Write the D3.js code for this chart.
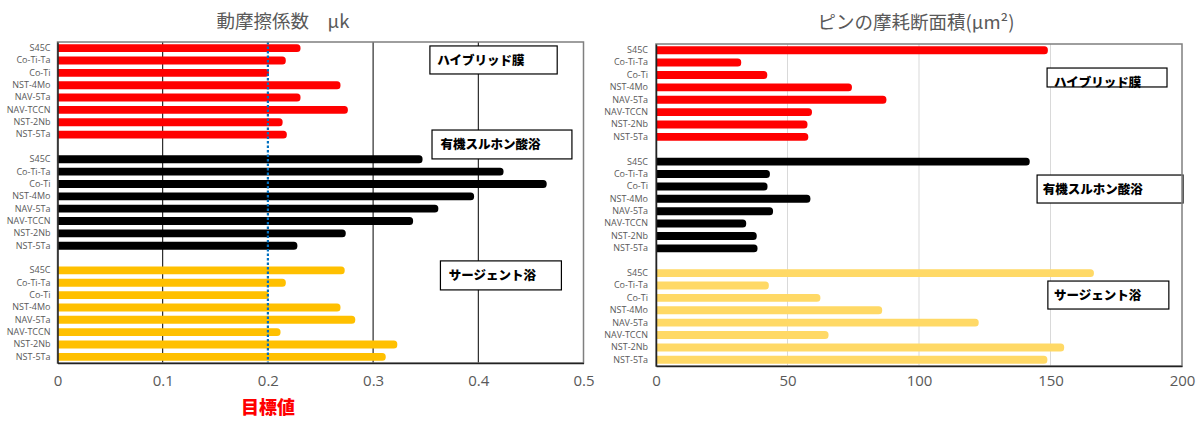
<!DOCTYPE html>
<html>
<head>
<meta charset="utf-8">
<script src="https://cdn.jsdelivr.net/npm/d3@7"></script>
<style>
  body { margin: 0; background: #fff; }
  svg { display: block; }
</style>
</head>
<body>
<div id="chart"></div>
<script>
// categories
const materials = ["S45C", "Co-Ti-Ta ", "Co-Ti ", "NST-4Mo", "NAV-5Ta", "NAV-TCCN", "NST-2Nb", "NST-5Ta"];
const groups = ["ハイブリッド膜", "有機スルホン酸浴", "サージェント浴"];

// dynamic friction coefficient
const frictionHybrid  = [0.231, 0.217, 0.201, 0.269, 0.231, 0.276, 0.214, 0.218];
const frictionOrganic = [0.347, 0.424, 0.465, 0.396, 0.362, 0.338, 0.274, 0.228];
const frictionSargent = [0.273, 0.217, 0.201, 0.269, 0.283, 0.212, 0.323, 0.312];
const frictionTicks = [0, 0.1, 0.2, 0.3, 0.4, 0.5];
const frictionTarget = 0.2;

// pin wear cross-section area
const wearHybrid  = [149.0, 32.4, 42.3, 74.5, 87.6, 59.3, 57.6, 57.9];
const wearOrganic = [142.1, 43.3, 42.4, 58.7, 44.5, 34.3, 38.3, 38.6];
const wearSargent = [166.5, 42.9, 62.5, 86.0, 122.7, 65.6, 155.2, 148.8];
const wearTicks = [0, 50, 100, 150, 200];

const W = 1203, H = 421;
const svg = d3.select("#chart").append("svg")
  .attr("width", W).attr("height", H);

const jp = "'Noto Sans CJK JP', sans-serif";
const latin = "'Open Sans', 'Noto Sans', sans-serif";

// one row per material, one empty row between groups
function buildRows(series) {
  const rows = [];
  series.forEach((vals, gi) => {
    if (gi > 0) rows.push({key: "gap" + gi, label: "", value: null});
    vals.forEach((v, i) => rows.push({key: gi + "|" + i, label: materials[i], value: v, group: gi}));
  });
  return rows;
}

function drawChart(cfg) {
  const g = svg.append("g");
  const rows = buildRows(cfg.series);

  const x = d3.scaleLinear().domain(cfg.domain).range([cfg.left, cfg.right]);
  const y = d3.scaleBand().domain(rows.map(d => d.key))
    .range([cfg.top, cfg.bottom]).paddingInner(0.36).paddingOuter(0.18);
  const rowY = r => cfg.top + r * y.step();

  // title
  g.append("text")
    .attr("x", cfg.titleX).attr("y", cfg.titleY)
    .attr("text-anchor", "middle")
    .attr("font-family", jp).attr("font-size", 18.5)
    .attr("fill", "#595959")
    .text(cfg.title);

  // gridlines
  g.append("g").selectAll("line")
    .data(cfg.grid)
    .join("line")
    .attr("x1", d => x(d)).attr("x2", d => x(d))
    .attr("y1", cfg.top).attr("y2", cfg.bottom)
    .attr("stroke", cfg.gridColor).attr("stroke-width", 1);

  // bars
  const clipId = "clip" + cfg.id;
  g.append("clipPath").attr("id", clipId)
    .append("rect")
    .attr("x", cfg.left).attr("y", cfg.top)
    .attr("width", cfg.right - cfg.left).attr("height", cfg.bottom - cfg.top);

  g.append("g").attr("clip-path", `url(#${clipId})`)
    .selectAll("rect")
    .data(rows.filter(d => d.value != null))
    .join("rect")
    .attr("x", x(0) - 5)
    .attr("y", d => y(d.key))
    .attr("width", d => x(d.value) - x(0) + 5)
    .attr("height", y.bandwidth())
    .attr("rx", 3.5)
    .attr("fill", d => cfg.colors[d.group]);

  // group label boxes
  cfg.boxes.forEach((b, i) => {
    g.append("rect")
      .attr("x", x(b.x0)).attr("y", rowY(b.r0))
      .attr("width", x(b.x1) - x(b.x0)).attr("height", rowY(b.r1) - rowY(b.r0))
      .attr("fill", "#fff").attr("stroke", "#000").attr("stroke-width", 1.2);
    g.append("text")
      .attr("x", x(b.tx)).attr("y", rowY(b.ty))
      .attr("dy", "0.36em")
      .attr("font-family", jp).attr("font-size", 12.5).attr("font-weight", 900)
      .attr("fill", "#000")
      .text(groups[i]);
  });

  // target line
  if (cfg.target != null) {
    g.append("line")
      .attr("x1", x(cfg.target)).attr("x2", x(cfg.target))
      .attr("y1", cfg.top).attr("y2", cfg.bottom)
      .attr("stroke", "#0070C0").attr("stroke-width", 2.2)
      .attr("stroke-dasharray", "2.5,2");
  }

  // plot border
  g.append("rect")
    .attr("x", cfg.left).attr("y", cfg.top)
    .attr("width", cfg.right - cfg.left).attr("height", cfg.bottom - cfg.top)
    .attr("fill", "none").attr("stroke", "#7f7f7f").attr("stroke-width", 1.5);

  // y axis (categories)
  const yAxis = g.append("g")
    .attr("transform", `translate(${cfg.left},0)`)
    .call(d3.axisLeft(y).tickSize(0).tickPadding(cfg.labelPad)
      .tickFormat(k => rows.find(r => r.key === k).label));
  yAxis.select(".domain").attr("stroke", "#222").attr("stroke-width", 1.5);
  yAxis.selectAll("text")
    .attr("font-family", latin).attr("font-size", 9).attr("fill", "#595959");

  // x axis
  const xAxis = g.append("g")
    .attr("transform", `translate(0,${cfg.bottom})`)
    .call(d3.axisBottom(x).tickValues(cfg.ticks).tickSize(0).tickPadding(cfg.tickPad)
      .tickFormat(d => String(d)));
  xAxis.select(".domain").attr("stroke", "#222").attr("stroke-width", 1.5);
  xAxis.selectAll("text")
    .attr("font-family", latin).attr("font-size", 15).attr("fill", "#595959");

  return x;
}

const xl = drawChart({
  id: "L", title: "動摩擦係数　μk", titleX: 283, titleY: 28,
  series: [frictionHybrid, frictionOrganic, frictionSargent],
  colors: ["#FF0000", "#000000", "#FFC000"],
  domain: [0, 0.5], ticks: frictionTicks,
  left: 57.5, right: 583.5, top: 42, bottom: 363,
  grid: [0.1, 0.3, 0.4], gridColor: "#000",
  target: frictionTarget, labelPad: 7, tickPad: 12,
  boxes: [
    {x0: 0.354, x1: 0.475, r0: 0.32, r1: 2.59, tx: 0.361, ty: 1.51},
    {x0: 0.356, x1: 0.489, r0: 7.13, r1: 9.47, tx: 0.364, ty: 8.34},
    {x0: 0.364, x1: 0.479, r0: 17.73, r1: 20.08, tx: 0.372, ty: 18.92}
  ]
});

drawChart({
  id: "R", title: "ピンの摩耗断面積(μm²)", titleX: 916, titleY: 29,
  series: [wearHybrid, wearOrganic, wearSargent],
  colors: ["#FF0000", "#000000", "#FFD966"],
  domain: [0, 200], ticks: wearTicks,
  left: 656, right: 1182, top: 44, bottom: 366,
  grid: [50, 100, 150], gridColor: "#D9D9D9",
  target: null, labelPad: 8, tickPad: 9,
  boxes: [
    {x0: 148.7, x1: 194.3, r0: 1.94, r1: 3.47, tx: 151.3, ty: 3.07},
    {x0: 144.9, x1: 200.4, r0: 10.58, r1: 12.84, tx: 147.1, ty: 11.71},
    {x0: 149.0, x1: 195.0, r0: 19.14, r1: 21.4, tx: 151.3, ty: 20.27}
  ]
});

// target label
svg.append("text")
  .attr("x", xl(frictionTarget)).attr("y", 408)
  .attr("dy", "0.35em")
  .attr("text-anchor", "middle")
  .attr("font-family", jp).attr("font-size", 18).attr("font-weight", 900)
  .attr("fill", "#FF0000")
  .text("目標値");
</script>
</body>
</html>
